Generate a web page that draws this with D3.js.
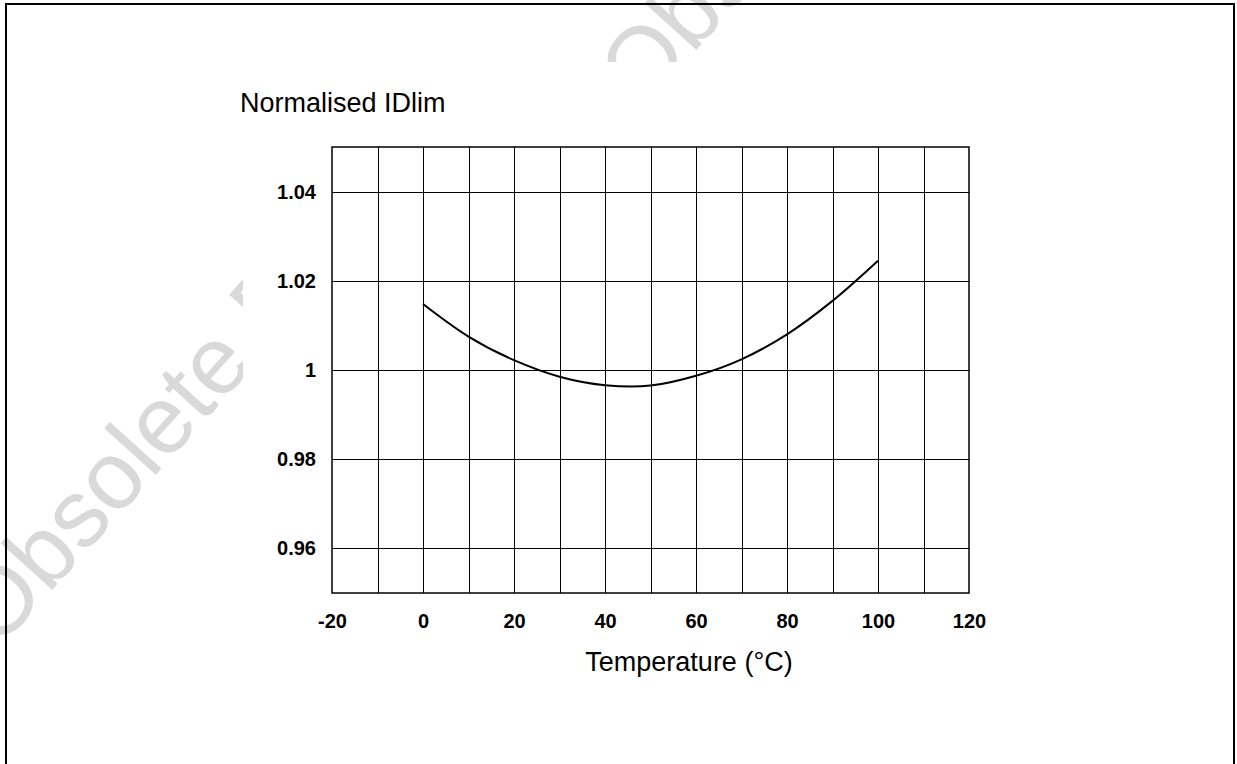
<!DOCTYPE html>
<meta charset="utf-8">
<html>
<head>
<style>
body { margin: 0; background: #fff; }
svg { display: block; font-family: "Liberation Sans", Arial, Helvetica, sans-serif; }
.grid line { stroke: #000; stroke-width: 1px; shape-rendering: crispEdges; }
.grid .domain { display: none; }
.lbl .domain { display: none; }
.lbl text { font-size: 20px; font-weight: bold; fill: #000; font-family: "Liberation Sans", Arial, sans-serif; }
.wm { font-size: 96px; fill: #d9d9d9; }
</style>
</head>
<body>
<svg width="1237" height="764"></svg>
<script src="https://cdn.jsdelivr.net/npm/d3@7"></script>
<script>

// temperature (°C) and normalised IDlim
var temps = [0, 10, 20, 30, 40, 50, 60, 70, 80, 90, 100];
var idlim = [1.0148, 1.0075, 1.0022, 0.9985, 0.9966, 0.9965, 0.9987, 1.0024, 1.008, 1.0155, 1.0245];

var xLabels = [-20, 0, 20, 40, 60, 80, 100, 120];
var xGrid = [-10, 0, 10, 20, 30, 40, 50, 60, 70, 80, 90, 100, 110];
var yTicks = [0.96, 0.98, 1, 1.02, 1.04];

var svg = d3.select("svg");

var pL = 332, pR = 969, pT = 147, pB = 593;

var x = d3.scaleLinear().domain([-20, 120]).range([pL, pR]);
var y = d3.scaleLinear().domain([0.95, 1.05]).range([pB, pT]);

// watermark, partly hidden behind the chart picture
svg.append("text").attr("class", "wm")
    .attr("transform", "translate(-2,650) rotate(-48)")
    .text("Obsolete Product");
svg.append("text").attr("class", "wm")
    .attr("transform", "translate(642,110) rotate(-48)")
    .text("Obsolete Product(s)");

svg.append("rect")
    .attr("x", 243).attr("y", 62)
    .attr("width", 770).attr("height", 660)
    .attr("fill", "#fff");

// outer frame (no bottom edge)
svg.append("path")
    .attr("d", "M6,764 V4 H1234 V764")
    .attr("fill", "none")
    .attr("stroke", "#000")
    .attr("stroke-width", 2);

// grid
svg.append("g").attr("class", "grid")
    .attr("transform", "translate(0," + pB + ")")
    .call(d3.axisBottom(x).tickValues(xGrid).tickSize(-(pB - pT)).tickFormat(""));
svg.append("g").attr("class", "grid")
    .attr("transform", "translate(" + pL + ",0)")
    .call(d3.axisLeft(y).tickValues(yTicks).tickSize(-(pR - pL)).tickFormat(""));

svg.append("rect")
    .attr("x", pL).attr("y", pT)
    .attr("width", pR - pL).attr("height", pB - pT)
    .attr("fill", "none")
    .attr("stroke", "#000")
    .attr("stroke-width", 1.5);

// tick labels
svg.append("g").attr("class", "lbl")
    .attr("transform", "translate(0," + pB + ")")
    .call(d3.axisBottom(x).tickValues(xLabels).tickSize(0).tickPadding(21).tickFormat(function(d) { return String(d); }));
svg.append("g").attr("class", "lbl")
    .attr("transform", "translate(" + pL + ",0)")
    .call(d3.axisLeft(y).tickValues(yTicks).tickSize(0).tickPadding(16).tickFormat(function(d) { return String(d); }));

// curve
var line = d3.line()
    .x(function(d, i) { return x(temps[i]); })
    .y(function(d) { return y(d); })
    .curve(d3.curveCatmullRom);

svg.append("path")
    .datum(idlim)
    .attr("d", line)
    .attr("fill", "none")
    .attr("stroke", "#000")
    .attr("stroke-width", 2);

// titles
svg.append("text")
    .attr("x", 240).attr("y", 112)
    .style("font-size", "27px")
    .text("Normalised IDlim");

svg.append("text")
    .attr("x", 689).attr("y", 671)
    .attr("text-anchor", "middle")
    .style("font-size", "27px")
    .text("Temperature (°C)");

</script>
</body>
</html>
